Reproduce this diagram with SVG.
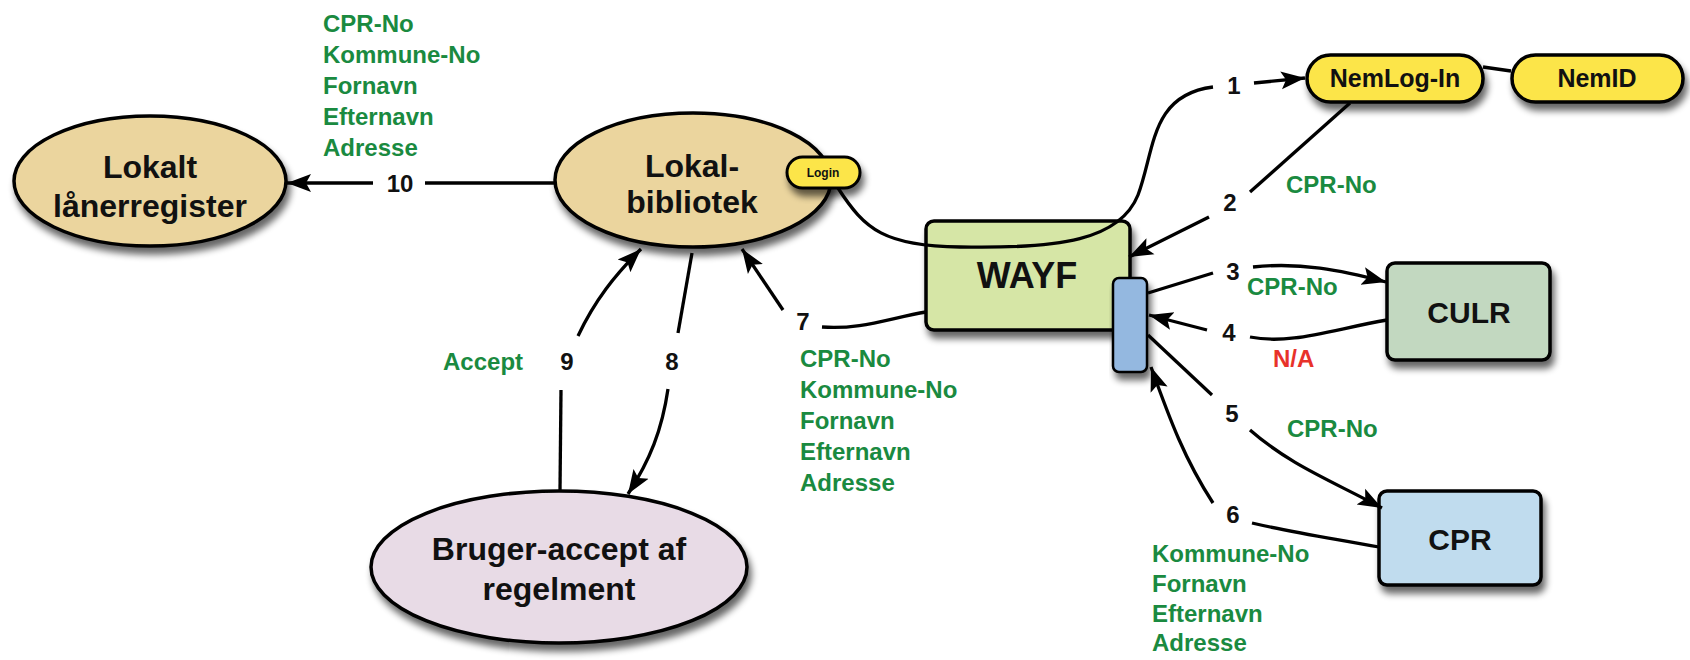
<svg xmlns="http://www.w3.org/2000/svg" width="1690" height="660" viewBox="0 0 1690 660">
<defs>
<filter id="sh" x="-20%" y="-20%" width="150%" height="170%">
<feGaussianBlur in="SourceAlpha" stdDeviation="3.5"/>
<feOffset dx="3" dy="7" result="b"/>
<feComponentTransfer><feFuncA type="linear" slope="0.6"/></feComponentTransfer>
<feMerge><feMergeNode/><feMergeNode in="SourceGraphic"/></feMerge>
</filter>
<marker id="ah" markerUnits="userSpaceOnUse" markerWidth="26" markerHeight="20" refX="24" refY="10" orient="auto">
<path d="M0,1 L24,10 L0,19 L5,10 Z" fill="#000"/>
</marker>
<style>
.n{stroke:#000;stroke-width:3.5}
.t{font-family:"Liberation Sans",Arial,sans-serif;font-weight:bold;text-anchor:middle;fill:#111}
.g{font-family:"Liberation Sans",Arial,sans-serif;font-weight:bold;font-size:24px;fill:#1a8a40}
.r{fill:#e8322a}
.num{font-family:"Liberation Sans",Arial,sans-serif;font-weight:bold;font-size:24px;text-anchor:middle;fill:#111}
.e{fill:none;stroke:#000;stroke-width:3.3}
.a{marker-end:url(#ah)}
</style>
</defs>
<rect width="1690" height="660" fill="#fff"/>
<g id="lokalt">
<ellipse cx="150" cy="181" rx="136" ry="65" fill="#ebd59e" class="n" filter="url(#sh)"/>
<text class="t" x="150" y="178" font-size="32">Lokalt</text>
<text class="t" x="150" y="217" font-size="32">lånerregister</text>
</g>
<g id="lokalbibliotek">
<ellipse cx="693" cy="180" rx="138" ry="67" fill="#ebd59e" class="n" filter="url(#sh)"/>
<text class="t" x="692" y="177" font-size="32">Lokal-</text>
<text class="t" x="692" y="213" font-size="32">bibliotek</text>
</g>
<g id="login">
<rect x="787" y="157" width="73" height="31" rx="15.5" fill="#fce54a" stroke="#000" stroke-width="3" filter="url(#sh)"/>
<text class="t" x="823" y="177" font-size="12">Login</text>
</g>
<g id="bruger">
<ellipse cx="559" cy="567" rx="188" ry="76" fill="#e8dbe6" class="n" filter="url(#sh)"/>
<text class="t" x="559" y="560" font-size="32">Bruger-accept af</text>
<text class="t" x="559" y="600" font-size="32">regelment</text>
</g>
<g id="wayf">
<rect x="926" y="221" width="204" height="109" rx="8" fill="#d6e6a6" class="n" filter="url(#sh)"/>
<text class="t" x="1027" y="288" font-size="36">WAYF</text>
</g>
<g id="wayf-port">
<rect x="1113" y="278" width="34" height="94" rx="6" fill="#94b8e0" stroke="#000" stroke-width="2.5" filter="url(#sh)"/>
</g>
<g id="nemlogin">
<rect x="1307" y="55" width="176" height="47" rx="23.5" fill="#fce54a" class="n" filter="url(#sh)"/>
<text class="t" x="1395" y="87" font-size="25">NemLog-In</text>
</g>
<g id="nemid">
<rect x="1512" y="55" width="171" height="47" rx="23.5" fill="#fce54a" class="n" filter="url(#sh)"/>
<text class="t" x="1597" y="87" font-size="25">NemID</text>
</g>
<g id="culr">
<rect x="1387" y="263" width="163" height="97" rx="8" fill="#c2d8c0" class="n" filter="url(#sh)"/>
<text class="t" x="1469" y="323" font-size="30">CULR</text>
</g>
<g id="cpr">
<rect x="1379" y="491" width="162" height="94" rx="8" fill="#c0dcee" class="n" filter="url(#sh)"/>
<text class="t" x="1460" y="550" font-size="30">CPR</text>
</g>
<g id="connectors">
<path class="e" d="M1483,67 L1511,71" stroke-width="1.2"/>
<path class="e" d="M838,188 C865,230 885,246 960,247 C1060,249 1120,240 1138,195 C1155,150 1150,95 1213,87"/>
<path class="e a" d="M1254,83 L1305,78"/>
<path class="e" d="M1350,103 L1250,192"/>
<path class="e a" d="M1209,217 L1129,257"/>
<path class="e" d="M1148,293 L1213,273"/>
<path class="e a" d="M1253,267 C1300,262 1340,270 1386,282"/>
<path class="e" d="M1387,320 C1330,330 1290,345 1250,337"/>
<path class="e a" d="M1207,330 L1149,315"/>
<path class="e" d="M1148,335 L1212,395"/>
<path class="e a" d="M1250,430 C1290,465 1330,480 1382,508"/>
<path class="e" d="M1379,547 C1330,538 1290,532 1252,523"/>
<path class="e a" d="M1213,503 C1185,460 1170,420 1151,367"/>
<path class="e" d="M926,312 C890,318 860,330 822,327"/>
<path class="e a" d="M783,310 L742,249"/>
<path class="e" d="M692,253 L678,333"/>
<path class="e a" d="M668,389 C662,430 650,460 628,494"/>
<path class="e" d="M560,490 L561,390"/>
<path class="e a" d="M578,336 C595,300 615,275 641,249"/>
<path class="e" d="M555,183 L425,183"/>
<path class="e a" d="M373,183 L287,183"/>
<text class="num" x="1234" y="94">1</text>
<text class="num" x="1230" y="211">2</text>
<text class="num" x="1233" y="280">3</text>
<text class="num" x="1229" y="341">4</text>
<text class="num" x="1232" y="422">5</text>
<text class="num" x="1233" y="523">6</text>
<text class="num" x="803" y="330">7</text>
<text class="num" x="672" y="370">8</text>
<text class="num" x="567" y="370">9</text>
<text class="num" x="400" y="192">10</text>
<text class="g" x="323" y="32">CPR-No</text>
<text class="g" x="323" y="63">Kommune-No</text>
<text class="g" x="323" y="94">Fornavn</text>
<text class="g" x="323" y="125">Efternavn</text>
<text class="g" x="323" y="156">Adresse</text>
<text class="g" x="1286" y="193">CPR-No</text>
<text class="g" x="1247" y="295">CPR-No</text>
<text class="g r" x="1273" y="367">N/A</text>
<text class="g" x="1287" y="437">CPR-No</text>
<text class="g" x="1152" y="562">Kommune-No</text>
<text class="g" x="1152" y="592">Fornavn</text>
<text class="g" x="1152" y="622">Efternavn</text>
<text class="g" x="1152" y="651">Adresse</text>
<text class="g" x="800" y="367">CPR-No</text>
<text class="g" x="800" y="398">Kommune-No</text>
<text class="g" x="800" y="429">Fornavn</text>
<text class="g" x="800" y="460">Efternavn</text>
<text class="g" x="800" y="491">Adresse</text>
<text class="g" x="443" y="370">Accept</text>
</g>
</svg>
